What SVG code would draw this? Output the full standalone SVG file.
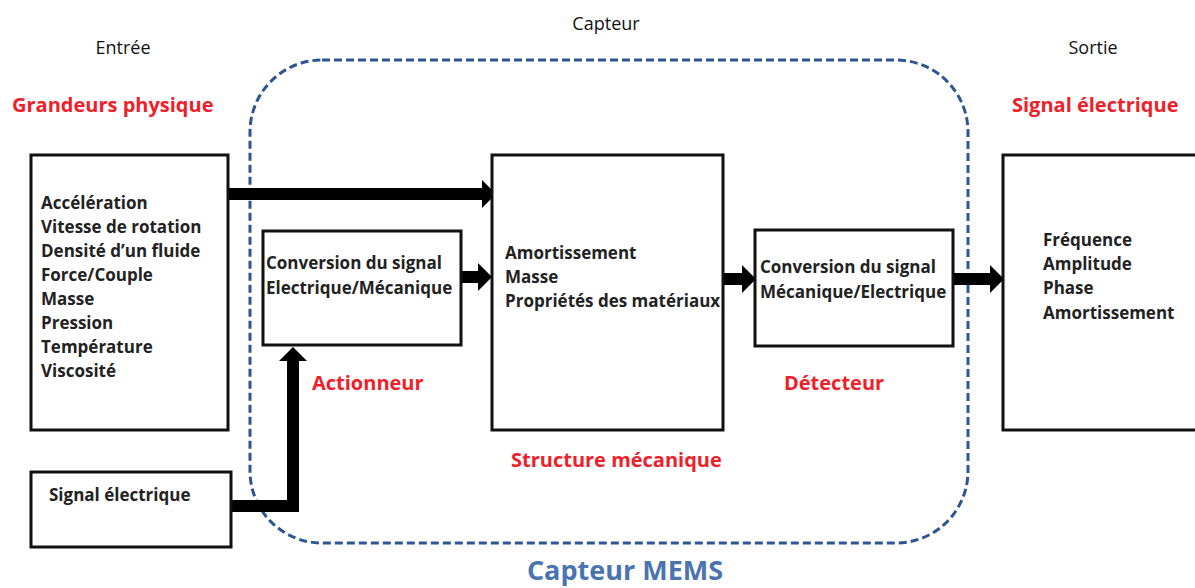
<svg xmlns="http://www.w3.org/2000/svg" width="1195" height="588" viewBox="0 0 1195 588">
  <style>
    .box { fill: #ffffff; stroke: #111111; stroke-width: 3; }
    .item { font-family: "Open Sans", "Liberation Sans", sans-serif; font-weight: bold; font-size: 17px; fill: #222222; }
    .head { font-family: "Open Sans", "Liberation Sans", sans-serif; font-size: 18px; fill: #111111; text-anchor: middle; }
    .red { font-family: "Open Sans", "Liberation Sans", sans-serif; font-weight: bold; font-size: 20px; fill: #f0202a; }
    .flow { fill: none; stroke: #000000; stroke-width: 12; stroke-linejoin: miter; }
  </style>
  <defs>
    <marker id="arrow" viewBox="0 0 14 28" refX="0" refY="14" markerWidth="14" markerHeight="28" markerUnits="userSpaceOnUse" orient="auto">
      <path d="M0,0 L14,14 L0,28 z" fill="#000000"/>
    </marker>
  </defs>

  <rect width="1195" height="588" fill="#ffffff"/>

  <!-- section headings -->
  <text class="head" x="606" y="30">Capteur</text>
  <text class="head" x="123" y="54">Entrée</text>
  <text class="head" x="1093" y="54">Sortie</text>
  <text class="red" x="12" y="112">Grandeurs physique</text>
  <text class="red" x="1012" y="112">Signal électrique</text>

  <!-- MEMS sensor enclosure -->
  <g id="capteur-mems">
    <rect x="250" y="60" width="718" height="483" rx="72" ry="72" fill="none" stroke="#2f5591" stroke-width="3" stroke-dasharray="8 4"/>
    <text x="625" y="580" text-anchor="middle" font-family="'Open Sans', 'Liberation Sans', sans-serif" font-weight="bold" font-size="27" fill="#4a74b0">Capteur MEMS</text>
  </g>

  <!-- connectors -->
  <g id="connectors">
    <line class="flow" x1="228" y1="194" x2="482" y2="194" marker-end="url(#arrow)"/>
    <line class="flow" x1="461" y1="277" x2="478" y2="277" marker-end="url(#arrow)"/>
    <polyline class="flow" points="231,506 293,506 293,361" marker-end="url(#arrow)"/>
    <line class="flow" x1="723" y1="279" x2="742" y2="279" marker-end="url(#arrow)"/>
    <line class="flow" x1="953" y1="279" x2="990" y2="279" marker-end="url(#arrow)"/>
  </g>

  <g id="grandeurs-physiques">
    <rect class="box" x="31" y="155" width="197" height="275"/>
    <text class="item" x="41" y="209">Accélération</text>
    <text class="item" x="41" y="233">Vitesse de rotation</text>
    <text class="item" x="41" y="257">Densité d’un fluide</text>
    <text class="item" x="41" y="281">Force/Couple</text>
    <text class="item" x="41" y="305">Masse</text>
    <text class="item" x="41" y="329">Pression</text>
    <text class="item" x="41" y="353">Température</text>
    <text class="item" x="41" y="377">Viscosité</text>
  </g>

  <g id="signal-entree">
    <rect class="box" x="31" y="472" width="200" height="75"/>
    <text class="item" x="49" y="501">Signal électrique</text>
  </g>

  <g id="actionneur">
    <rect class="box" x="263" y="231" width="198" height="114"/>
    <text class="item" x="266" y="269">Conversion du signal</text>
    <text class="item" x="266" y="294">Electrique/Mécanique</text>
    <text class="red" x="312" y="390">Actionneur</text>
  </g>

  <g id="structure-mecanique">
    <rect class="box" x="492" y="155" width="231" height="275"/>
    <text class="item" x="505" y="259">Amortissement</text>
    <text class="item" x="505" y="283">Masse</text>
    <text class="item" x="505" y="307" font-size="16.6">Propriétés des matériaux</text>
    <text class="red" x="511" y="467">Structure mécanique</text>
  </g>

  <g id="detecteur">
    <rect class="box" x="755" y="230" width="198" height="116"/>
    <text class="item" x="760" y="273">Conversion du signal</text>
    <text class="item" x="760" y="298">Mécanique/Electrique</text>
    <text class="red" x="784" y="390">Détecteur</text>
  </g>

  <g id="signal-sortie">
    <rect class="box" x="1003" y="155" width="200" height="275"/>
    <text class="item" x="1043" y="246">Fréquence</text>
    <text class="item" x="1043" y="270">Amplitude</text>
    <text class="item" x="1043" y="294">Phase</text>
    <text class="item" x="1043" y="319">Amortissement</text>
  </g>
</svg>
